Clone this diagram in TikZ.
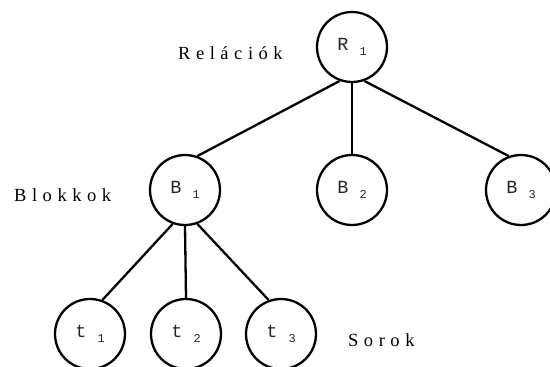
\documentclass[tikz,border=0pt]{standalone}
\usepackage{fontspec}
\setmainfont{Liberation Serif}
\newfontfamily\monof{Liberation Mono}
\newfontfamily\labf[WordSpace=1.2]{Liberation Serif}
\newcommand{\subidx}[1]{\raisebox{-0.45ex}{\fontsize{12}{12}\selectfont #1}}
\begin{document}
\begin{tikzpicture}[x=1pt,y=-1pt, line width=2.3pt,
  circ/.style={circle, draw, minimum size=70pt, inner sep=0pt,
    font=\monof\fontsize{18.5}{18.5}\selectfont, text=black!85},
  lab/.style={font=\labf\fontsize{18.5}{18.5}\selectfont, anchor=base west, inner sep=0pt, text=black}]
\useasboundingbox (0,0) rectangle (550,367);
\node[circ] (R1) at (352,47) {R \subidx{1}};
\node[circ] (B1) at (185,190) {B \subidx{1}};
\node[circ] (B2) at (352,190) {B \subidx{2}};
\node[circ] (B3) at (521,190) {B \subidx{3}};
\node[circ] (t1) at (90,334) {t \subidx{1}};
\node[circ] (t2) at (186,334) {t \subidx{2}};
\node[circ] (t3) at (281,334) {t \subidx{3}};
\draw (R1.250) -- (B1.70);
\draw (R1.south) -- (B2.north);
\draw (R1.290) -- (B3.110);
\draw (B1.250) -- (t1.70);
\draw (B1.south) -- (t2.north);
\draw (B1.290) -- (t3.110);
\node[lab] (rel) at (177,59.5) {R e l á c i ó k};
\node[lab] (blk) at (13,201) {B l o k k o k};
\node[lab] (sor) at (347,346) {S o r o k};
\end{tikzpicture}
\end{document}
